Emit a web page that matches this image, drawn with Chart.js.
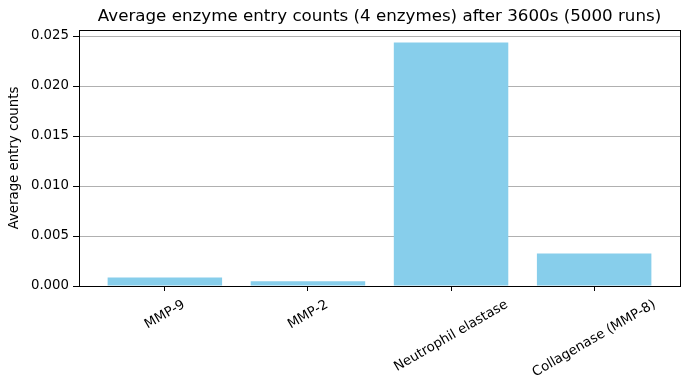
<!DOCTYPE html>
<html>
<head>
<meta charset="utf-8">
<script src="https://cdn.jsdelivr.net/npm/chart.js@4/dist/chart.umd.min.js"></script>
<style>
html,body{margin:0;padding:0;background:#fff;}
canvas{display:block;}
</style>
</head>
<body>
<canvas id="c" width="690" height="390"></canvas>
<script>
const categories = ['MMP-9', 'MMP-2', 'Neutrophil elastase', 'Collagenase (MMP-8)'];
const values = [0.00084, 0.00047, 0.02434, 0.00324];
const yTickValues = [0, 0.005, 0.010, 0.015, 0.020, 0.025];
const titleText = 'Average enzyme entry counts (4 enzymes) after 3600s (5000 runs)';
const yAxisTitle = 'Average entry counts';

const FONT = 'DejaVu Sans';
const TICK_SIZE = 13.3;
const TITLE_SIZE = 16.7;

const frameAndLabels = {
  id: 'frameAndLabels',
  afterDraw(chart) {
    const {ctx, chartArea} = chart;
    const xs = chart.scales.x;
    ctx.save();
    ctx.strokeStyle = '#000';
    ctx.lineWidth = 1;
    ctx.strokeRect(Math.round(chartArea.left) + 0.5, Math.round(chartArea.top) + 0.5,
      Math.round(chartArea.right - chartArea.left), Math.round(chartArea.bottom - chartArea.top));
    // title centered over plot area
    ctx.fillStyle = '#000';
    ctx.textAlign = 'center';
    ctx.textBaseline = 'middle';
    ctx.font = TITLE_SIZE + 'px "' + FONT + '"';
    ctx.fillText(titleText, (chartArea.left + chartArea.right) / 2, 17);
    // rotated x labels, centered on ticks like matplotlib
    ctx.font = TICK_SIZE + 'px "' + FONT + '"';
    const ang = Math.PI / 6;
    const h = TICK_SIZE * 1.17;
    const topY = chartArea.bottom + 11;
    categories.forEach((lab, i) => {
      const x = xs.getPixelForValue(i);
      const w = ctx.measureText(lab).width;
      const H = w * Math.sin(ang) + h * Math.cos(ang);
      ctx.save();
      ctx.translate(x, topY + H / 2);
      ctx.rotate(-ang);
      ctx.fillText(lab, 0, 0);
      ctx.restore();
    });
    ctx.restore();
  }
};

new Chart(document.getElementById('c'), {
  type: 'bar',
  data: {
    datasets: [{
      data: values.map((v, i) => ({x: i, y: v})),
      backgroundColor: '#87CEEB',
      borderWidth: 0,
      barPercentage: 0.8,
      categoryPercentage: 1.0
    }]
  },
  options: {
    responsive: false,
    animation: false,
    layout: {padding: {left: 0, right: 10, top: 30, bottom: 0}},
    plugins: {
      legend: {display: false},
      tooltip: {enabled: false},
      title: {display: false}
    },
    scales: {
      x: {
        type: 'linear',
        offset: false,
        min: -0.6,
        max: 3.6,
        afterBuildTicks(scale) { scale.ticks = categories.map((c, i) => ({value: i})); },
        afterFit(scale) { scale.height = 104; },
        ticks: {display: false},
        grid: {offset: false, drawOnChartArea: false, drawTicks: true, tickLength: 5, tickColor: '#000'},
        border: {color: '#000', width: 1}
      },
      y: {
        min: 0,
        max: 0.0256,
        afterBuildTicks(scale) { scale.ticks = yTickValues.map(v => ({value: v})); },
        afterFit(scale) { scale.width = 79; },
        ticks: {
          color: '#000',
          font: {family: FONT, size: TICK_SIZE},
          padding: 4,
          callback: v => Number(v).toFixed(3)
        },
        grid: {color: '#b0b0b0', lineWidth: 1, drawTicks: true, tickLength: 6, tickColor: '#000'},
        border: {color: '#000', width: 1},
        title: {
          display: true,
          text: yAxisTitle,
          color: '#000',
          font: {family: FONT, size: TICK_SIZE},
          padding: {top: 7, bottom: 4}
        }
      }
    }
  },
  plugins: [frameAndLabels]
});
</script>
</body>
</html>
